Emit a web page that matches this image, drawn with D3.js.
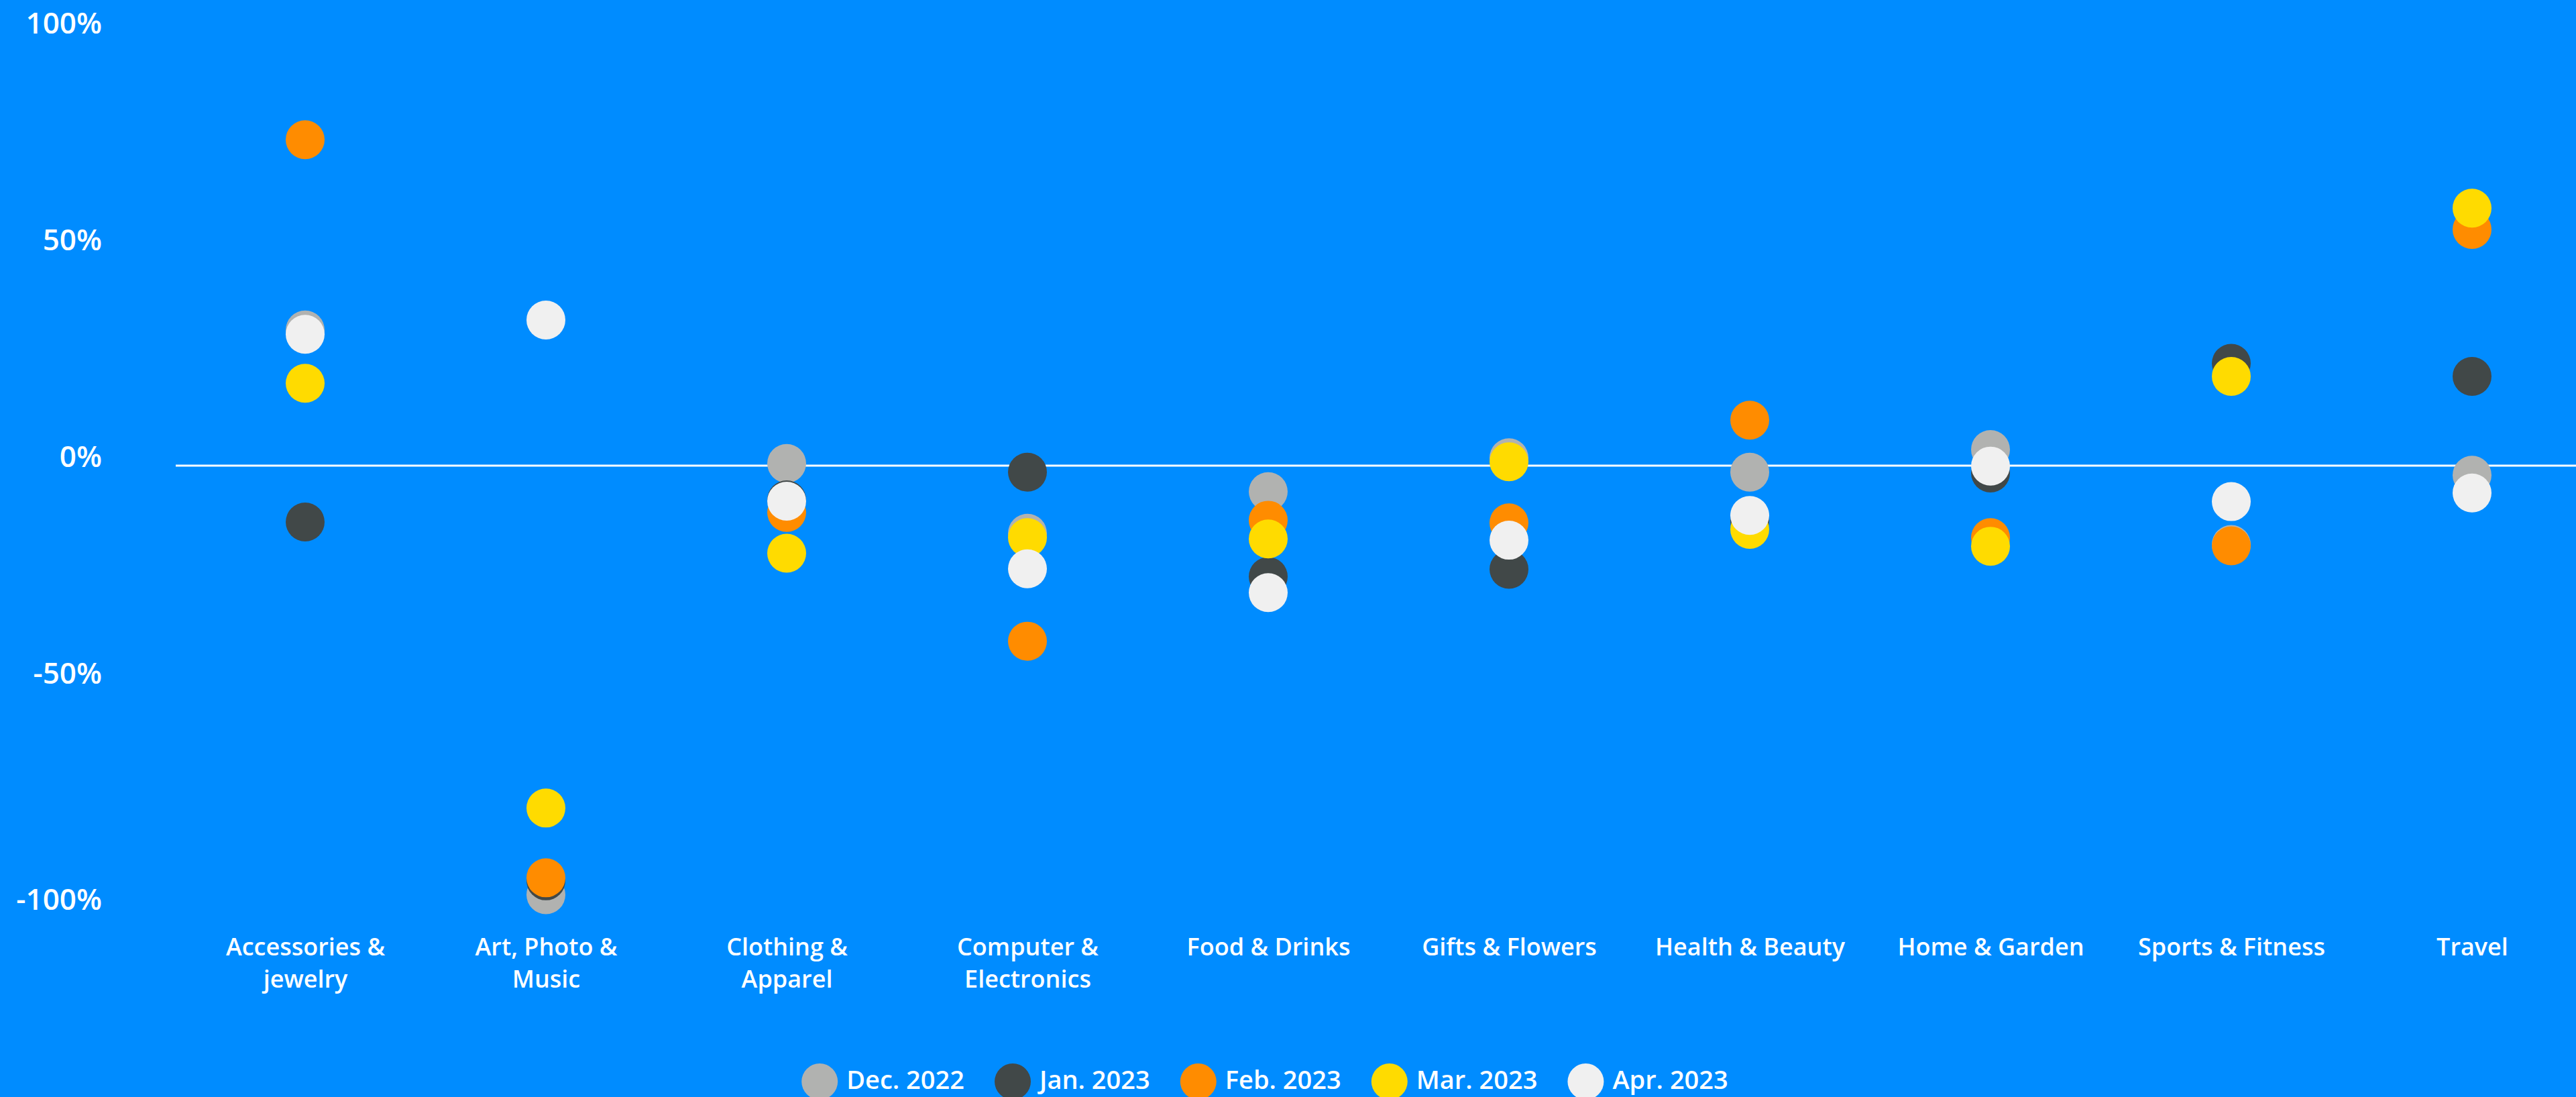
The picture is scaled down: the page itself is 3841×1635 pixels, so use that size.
<!DOCTYPE html>
<html>
<head>
<meta charset="utf-8">
<script src="https://cdn.jsdelivr.net/npm/d3@7"></script>
<style>
  html, body { margin: 0; padding: 0; background: #008cff; overflow: hidden; }
  text { font-family: "Open Sans", "DejaVu Sans", sans-serif; font-weight: 600; fill: #fff; }
</style>
</head>
<body>
<svg></svg>
<script>
// categories and series (percent change)
var categories = ["Accessories & jewelry", "Art, Photo & Music", "Clothing & Apparel",
  "Computer & Electronics", "Food & Drinks", "Gifts & Flowers", "Health & Beauty",
  "Home & Garden", "Sports & Fitness", "Travel"];

var seriesNames = ["Dec. 2022", "Jan. 2023", "Feb. 2023", "Mar. 2023", "Apr. 2023"];
var seriesColors = ["#b1b2b0", "#414848", "#ff8c00", "#ffdb00", "#f0f0f0"];

var dec2022 = [31.3, -99.0, 0.5, -15.6, -6.0, 1.8, -1.5, 3.7, -18.2, -2.2];
var jan2023 = [-13.0, -95.8, -7.9, -1.5, -25.6, -23.9, -12.8, -1.7, 23.6, 20.6];
var feb2023 = [75.2, -95.1, -10.8, -40.5, -12.6, -13.2, 10.5, -16.6, -18.5, 54.5];
var mar2023 = [19.0, -79.0, -20.2, -16.6, -16.9, 0.9, -14.7, -18.6, 20.6, 59.4];
var apr2023 = [30.3, 33.6, -8.2, -23.8, -29.3, -17.2, -11.5, -0.1, -8.3, -6.3];

var yTicks = [-100, -50, 0, 50, 100];

var allSeries = [dec2022, jan2023, feb2023, mar2023, apr2023];

var W = 3841, H = 1635;

var svg = d3.select("svg")
    .attr("width", W)
    .attr("height", H);

// scales
var x = d3.scalePoint()
    .domain(categories)
    .range([455, 3686]);

var y = d3.scaleLinear()
    .domain([-100, 100])
    .range([1340, 48]);

// y axis labels
var yAxis = svg.append("g")
    .attr("transform", "translate(152,0)")
    .call(d3.axisLeft(y).tickValues(yTicks).tickSize(0).tickPadding(0)
        .tickFormat(function(d) { return d + "%"; }));
yAxis.select(".domain").remove();
yAxis.attr("font-family", null).attr("font-size", null);
yAxis.selectAll("text")
    .attr("y", function(d) { return d === -100 ? 1 : -13; })
    .style("font-size", "44px")
    .attr("fill", "#fff");

// zero line
svg.append("line")
    .attr("x1", 262)
    .attr("x2", W)
    .attr("y1", y(0))
    .attr("y2", y(0))
    .attr("stroke", "#fff")
    .attr("stroke-width", 3);

// x axis labels (wrapped)
var xAxis = svg.append("g")
    .attr("transform", "translate(0,1424)")
    .call(d3.axisBottom(x).tickSize(0).tickPadding(0));
xAxis.select(".domain").remove();
xAxis.attr("font-family", null).attr("font-size", null);
xAxis.selectAll("text")
    .attr("y", 0)
    .attr("dy", 0)
    .style("font-size", "36px")
    .attr("fill", "#fff")
    .each(function(d) {
        var t = d3.select(this);
        var words = d.split(" ");
        t.text(null);
        var line = [];
        var lineNo = 0;
        var tspan = t.append("tspan").attr("x", 0).attr("y", 0);
        words.forEach(function(w) {
            line.push(w);
            tspan.text(line.join(" "));
            if (tspan.node().getComputedTextLength() > 310 && line.length > 1) {
                line.pop();
                tspan.text(line.join(" "));
                line = [w];
                lineNo++;
                tspan = t.append("tspan").attr("x", 0).attr("y", lineNo * 48).text(w);
            }
        });
    });

// dots, drawn series by series so later months sit on top
seriesNames.forEach(function(name, i) {
    svg.append("g")
        .selectAll("circle")
        .data(allSeries[i])
        .enter()
        .append("circle")
        .attr("cx", function(d, j) { return x(categories[j]); })
        .attr("cy", function(d) { return y(d); })
        .attr("r", 29)
        .attr("fill", seriesColors[i]);
});

// legend
var legend = svg.append("g");
var items = legend.selectAll("g")
    .data(seriesNames)
    .enter()
    .append("g");
items.append("circle")
    .attr("r", 27)
    .attr("cy", 1612)
    .attr("fill", function(d, i) { return seriesColors[i]; });
items.append("text")
    .attr("x", 40)
    .attr("y", 1610)
    .attr("dy", "0.35em")
    .style("font-size", "38px")
    .text(function(d) { return d; });

var pos = 0;
var offsets = [];
items.each(function() {
    var w = d3.select(this).select("text").node().getComputedTextLength();
    offsets.push(pos);
    pos += 40 + w + 72;
});
var total = pos - 72 + 27;
var start = 1886 - total / 2 + 27;
items.attr("transform", function(d, i) { return "translate(" + (start + offsets[i]) + ",0)"; });
</script>
</body>
</html>
